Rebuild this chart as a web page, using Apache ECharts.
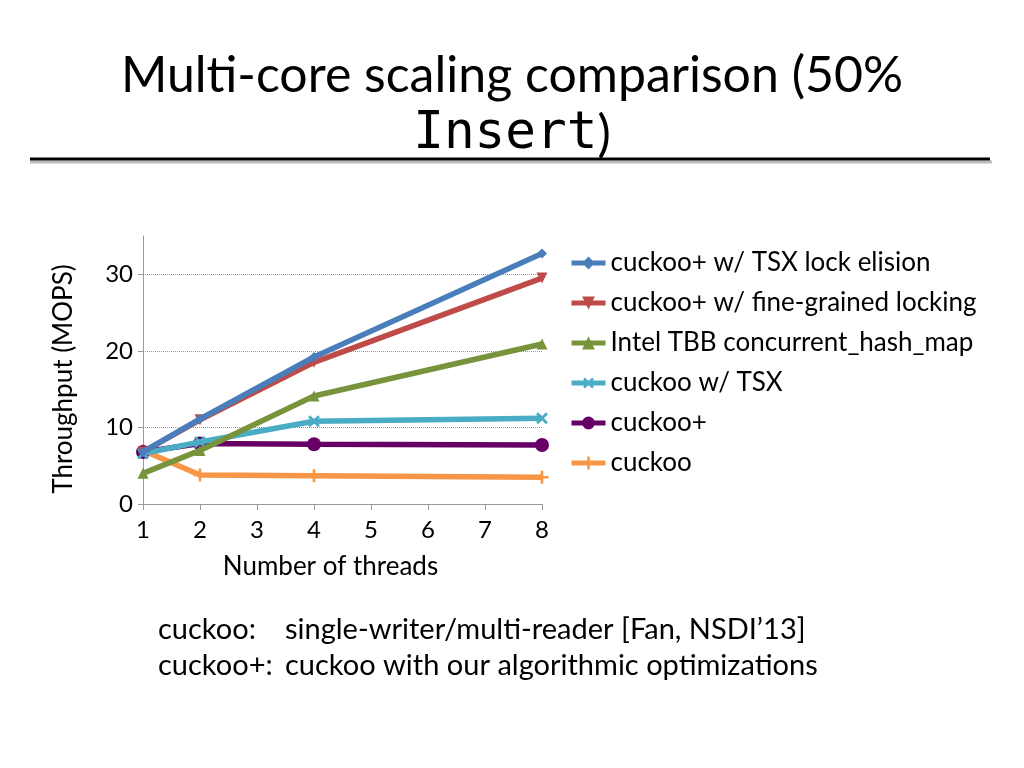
<!DOCTYPE html>
<html>
<head>
<meta charset="utf-8">
<script src="https://cdn.jsdelivr.net/npm/echarts@6/dist/echarts.min.js"></script>
<style>
  html, body { margin: 0; padding: 0; background: #fff; }
  #chart { width: 1024px; height: 768px; }
</style>
</head>
<body>
<div id="chart"></div>
<script>
// thread counts measured
var threads = [1, 2, 4, 8];
// throughput (MOPS) per variant
var tsxElision = [6.8, 11.1, 19.2, 32.7];
var fineGrained = [6.8, 11.0, 18.5, 29.5];
var tbbMap = [4.0, 7.0, 14.1, 20.9];
var cuckooTsx = [6.6, 8.1, 10.8, 11.2];
var cuckooPlus = [6.8, 7.9, 7.8, 7.7];
var cuckooBase = [7.0, 3.8, 3.7, 3.5];
var xTicks = [1, 2, 3, 4, 5, 6, 7, 8];
var yTicks = [0, 10, 20, 30];

var names = ['cuckoo+ w/ TSX lock elision', 'cuckoo+ w/ fine-grained locking',
    'Intel TBB concurrent_hash_map', 'cuckoo w/ TSX', 'cuckoo+', 'cuckoo'];
var colors = ['#4a7ebb', '#be4b48', '#77933c', '#4bacc6', '#660066', '#f79646'];

function pts(vals) {
    return threads.map(function (t, i) { return [t, vals[i]]; });
}

var plusPath = 'path://M4,0H6V4H10V6H6V10H4V6H0V4H4Z';

function makeSeries(idx, vals, symbol, size, rotate) {
    return {
        name: names[idx],
        type: 'line',
        data: pts(vals),
        symbol: symbol,
        symbolSize: size,
        symbolRotate: rotate || 0,
        showAllSymbol: true,
        lineStyle: { width: 5.5, color: colors[idx] },
        itemStyle: { color: colors[idx] },
        z: 10 - idx
    };
}

var chart = echarts.init(document.getElementById('chart'));
var option = {
    backgroundColor: '#fff',
    animation: false,
    textStyle: { fontFamily: 'Lato' },
    graphic: [
        {
            type: 'text', x: 512, y: 46,
            style: {
                text: '{a|Multi-core scaling comparison (50%}\n{b|Insert}{a|)}',
                align: 'center',
                rich: {
                    a: { fontFamily: 'Lato', fontSize: 50, fontWeight: 'normal', fill: '#000', lineHeight: 59 },
                    b: { fontFamily: 'DejaVu Sans Mono', fontSize: 51, fontWeight: 'normal', fill: '#000', lineHeight: 59 }
                }
            }
        },
        { type: 'line', shape: { x1: 30, y1: 162, x2: 992, y2: 162 }, style: { stroke: '#bbb', lineWidth: 3 } },
        { type: 'line', shape: { x1: 30, y1: 159, x2: 990, y2: 159 }, style: { stroke: '#000', lineWidth: 3 } },
        { type: 'text', left: 158, top: 615, style: { text: 'cuckoo:', font: '29px Lato', fill: '#000' } },
        { type: 'text', left: 285, top: 615, style: { text: 'single-writer/multi-reader [Fan, NSDI\u201913]', font: '29px Lato', fill: '#000' } },
        { type: 'text', left: 158, top: 651, style: { text: 'cuckoo+:', font: '29px Lato', fill: '#000' } },
        { type: 'text', left: 285, top: 651, style: { text: 'cuckoo with our algorithmic optimizations', font: '29px Lato', fill: '#000' } }
    ],
    legend: {
        orient: 'vertical',
        left: 564,
        top: 245,
        itemGap: 14,
        itemWidth: 34,
        itemHeight: 16,
        lineStyle: { width: 5 },
        textStyle: { fontFamily: 'Lato', fontSize: 26, color: '#000' },
        data: names
    },
    grid: {
        left: 143,
        right: 482,
        top: 236,
        bottom: 264,
        containLabel: false
    },
    xAxis: {
        type: 'value',
        min: 1,
        max: 8,
        interval: 1,
        name: 'Number of threads',
        nameLocation: 'middle',
        nameGap: 50,
        nameTextStyle: { fontFamily: 'Lato', fontSize: 26, color: '#000', padding: [0, 24, 0, 0] },
        axisLine: { lineStyle: { color: '#999', width: 1 } },
        axisTick: { show: true, length: 6, lineStyle: { color: '#999' } },
        axisLabel: {
            fontFamily: 'Lato', fontSize: 24, color: '#000', margin: 14,
            formatter: function (v) { return xTicks.indexOf(v) >= 0 ? String(v) : ''; }
        },
        splitLine: { show: false }
    },
    yAxis: {
        type: 'value',
        min: 0,
        max: 35,
        interval: 10,
        name: 'Throughput (MOPS)',
        nameLocation: 'middle',
        nameGap: 66,
        nameTextStyle: { fontFamily: 'Lato', fontSize: 26, color: '#000', padding: [0, 18, 0, 0] },
        axisLine: { show: true, lineStyle: { color: '#999', width: 1 } },
        axisTick: { show: true, length: 5, lineStyle: { color: '#999' } },
        axisLabel: {
            fontFamily: 'Lato', fontSize: 24, color: '#000', margin: 10,
            showMaxLabel: false,
            formatter: function (v) { return yTicks.indexOf(v) >= 0 ? String(v) : ''; }
        },
        splitLine: { show: true, showMaxLine: false, lineStyle: { color: '#999', type: 'dotted', width: 1 } }
    },
    series: [
        makeSeries(0, tsxElision, 'diamond', 10),
        makeSeries(1, fineGrained, 'triangle', 11, 180),
        makeSeries(2, tbbMap, 'triangle', 11),
        makeSeries(3, cuckooTsx, plusPath, 14, 45),
        makeSeries(4, cuckooPlus, 'circle', 14),
        makeSeries(5, cuckooBase, plusPath, 13)
    ]
};
chart.setOption(option);
</script>
</body>
</html>
